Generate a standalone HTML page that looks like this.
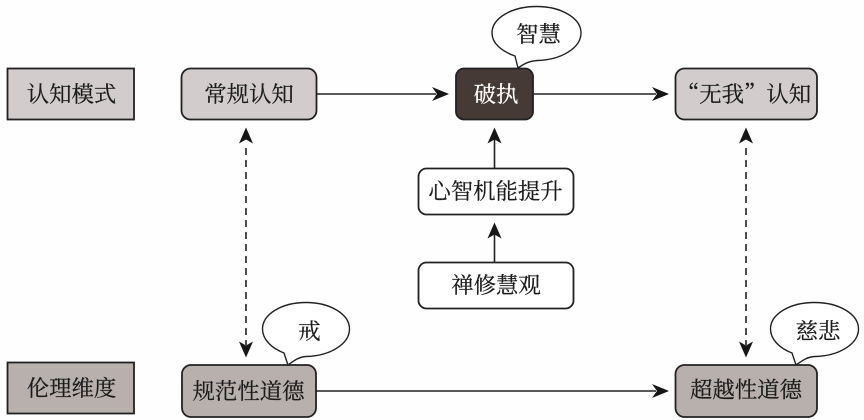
<!DOCTYPE html>
<html lang="zh">
<head>
<meta charset="utf-8">
<style>
html,body{margin:0;padding:0;background:#fefefe;}
svg{display:block;filter:blur(.35px);}
text{font-family:"Noto Serif CJK SC","Liberation Serif",serif;font-size:22.4px;fill:#1c1c1c;stroke:#1c1c1c;stroke-width:.25;text-anchor:middle;}
.b{stroke:#222;stroke-width:1.8;}
.l{stroke:#222;stroke-width:1.6;fill:none;}
.h{fill:#161616;stroke:none;}
.d{stroke:#222;stroke-width:1.6;fill:none;stroke-dasharray:7 5;}
.bub{fill:#fff;stroke:#222;stroke-width:1.4;}
</style>
</head>
<body>
<svg width="864" height="420" viewBox="0 0 864 420" xmlns="http://www.w3.org/2000/svg">
<!-- left labels -->
<rect class="b" x="7.5" y="68.5" width="126.5" height="51" fill="#d2cdcc"/>
<rect class="b" x="7.5" y="362.5" width="126.5" height="51" fill="#b8b0ad"/>
<!-- top row -->
<rect class="b" x="181.5" y="68.5" width="135" height="51" rx="9" fill="#d2cdcc"/>
<rect class="b" x="456" y="68.5" width="77" height="51" rx="8" fill="#453a36"/>
<rect class="b" x="675.5" y="68.5" width="141.5" height="51" rx="9" fill="#d2cdcc"/>
<!-- middle -->
<rect class="b" x="418.5" y="168.5" width="155" height="46" rx="8" fill="#fff"/>
<rect class="b" x="418.5" y="262.5" width="155" height="46" rx="8" fill="#fff"/>
<!-- bottom row -->
<rect class="b" x="182" y="365" width="134" height="52" rx="9" fill="#b8b0ad"/>
<rect class="b" x="675.5" y="365" width="141.5" height="52" rx="9" fill="#b8b0ad"/>
<!-- connectors -->
<line class="l" x1="316" y1="94" x2="436" y2="94"/>
<path class="h" d="M449 94L432 87L437 94L432 101Z"/>
<line class="l" x1="533" y1="94" x2="656" y2="94"/>
<path class="h" d="M669 94L652 87L657 94L652 101Z"/>
<line class="l" x1="316" y1="391" x2="656" y2="391"/>
<path class="h" d="M669 391L652 384L657 391L652 398Z"/>
<line class="l" x1="494.5" y1="168" x2="494.5" y2="138"/>
<path class="h" d="M494.5 127.500L487.500 143.500L494.500 139.500L501.500 143.500Z"/>
<line class="l" x1="494.5" y1="262" x2="494.5" y2="233"/>
<path class="h" d="M494.5 222.500L487.500 238.500L494.500 234.500L501.500 238.500Z"/>
<!-- dashed -->
<line class="d" x1="246" y1="148" x2="246" y2="345"/>
<path class="h" d="M246 127.500L239 143.500L246 139.500L253 143.500Z"/>
<path class="h" d="M246 357.500L239 341.500L246 345.500L253 341.500Z"/>
<line class="d" x1="746" y1="148" x2="746" y2="345"/>
<path class="h" d="M746 127.500L739 143.500L746 139.500L753 143.500Z"/>
<path class="h" d="M746 357.500L739 341.500L746 345.500L753 341.500Z"/>
<!-- bubbles -->
<path class="bub" d="M518 68 L515 56 C501 51 492 43 492 33 C492 18 512 6.500 536.500 6.500 C561 6.500 581 18 581 33 C581 48 561 60 537 60.500 C530 61 525 63 518 68Z"/>
<path class="bub" d="M288 365 L284 353 C271 348 262.500 339 262.500 329 C262.500 314 282 302.500 306 302.500 C330 302.500 349.500 314 349.500 329 C349.500 344 330 356 306 356.500 C299 357 295 360 288 365Z"/>
<path class="bub" d="M796 365 L792 353 C779 348 770.500 339 770.500 329 C770.500 314 790 302.500 814.500 302.500 C839 302.500 858.500 314 858.500 329 C858.500 344 839 356 815 356.500 C807 357 803 360 796 365Z"/>
<!-- labels -->
<text x="71.500" y="102">认知模式</text>
<text x="249" y="102">常规认知</text>
<text x="496" y="102" style="fill:#fff;stroke:#fff">破执</text>
<text x="744" y="102">“无我”认知</text>
<text x="495.500" y="199">心智机能提升</text>
<text x="496" y="293">禅修慧观</text>
<text x="71.500" y="396">伦理维度</text>
<text x="248.500" y="399">规范性道德</text>
<text x="746" y="397.500">超越性道德</text>
<text x="538.500" y="42">智慧</text>
<text x="309.500" y="339">戒</text>
<text x="818" y="339">慈悲</text>
</svg>
</body>
</html>
